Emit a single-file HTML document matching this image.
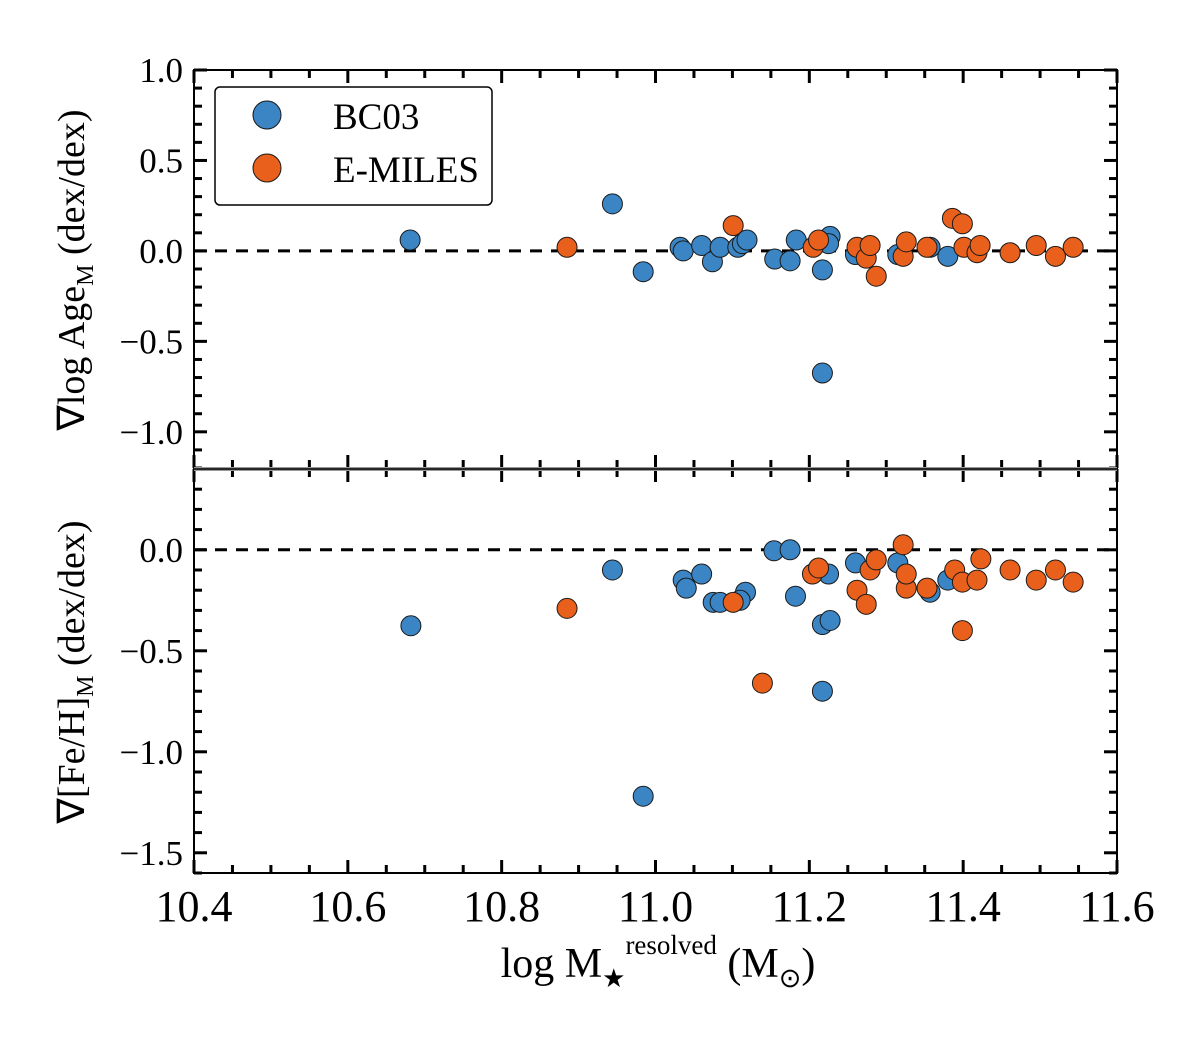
<!DOCTYPE html>
<html><head><meta charset="utf-8"><style>
body{margin:0;background:#fff}
svg{display:block;font-family:"Liberation Serif",serif}
</style></head><body>
<svg id="c" width="1200" height="1046"></svg>
<script>
const xTicks=[10.4,10.6,10.8,11.0,11.2,11.4,11.6];
const xTickLabels=["10.4","10.6","10.8","11.0","11.2","11.4","11.6"];
const topTicks=[1.0,0.5,0.0,-0.5,-1.0];
const topTickLabels=["1.0","0.5","0.0","\u22120.5","\u22121.0"];
const botTicks=[0.0,-0.5,-1.0,-1.5];
const botTickLabels=["0.0","\u22120.5","\u22121.0","\u22121.5"];
const ageBcX=[10.681,10.944,10.984,11.032,11.036,11.06,11.074,11.084,11.107,11.113,11.119,11.155,11.175,11.183,11.217,11.217,11.227,11.225,11.26,11.315,11.357,11.38];
const ageBcY=[0.06,0.26,-0.115,0.02,0.0,0.03,-0.06,0.02,0.02,0.04,0.06,-0.045,-0.055,0.06,-0.105,-0.675,0.08,0.04,-0.02,-0.02,0.02,-0.03];
const ageEmX=[10.885,11.101,11.205,11.212,11.262,11.274,11.279,11.287,11.322,11.326,11.353,11.386,11.399,11.401,11.418,11.422,11.461,11.495,11.52,11.543];
const ageEmY=[0.02,0.14,0.02,0.06,0.02,-0.04,0.03,-0.14,-0.03,0.05,0.02,0.18,0.15,0.02,-0.01,0.03,-0.01,0.03,-0.03,0.02];
const feBcX=[10.682,10.944,10.984,11.036,11.04,11.06,11.075,11.084,11.117,11.11,11.154,11.175,11.182,11.217,11.227,11.225,11.217,11.26,11.315,11.357,11.38];
const feBcY=[-0.376,-0.10,-1.22,-0.15,-0.19,-0.12,-0.26,-0.26,-0.21,-0.25,-0.005,0.0,-0.23,-0.37,-0.35,-0.12,-0.70,-0.065,-0.065,-0.21,-0.15];
const feEmX=[10.885,11.101,11.139,11.204,11.212,11.262,11.274,11.279,11.287,11.322,11.326,11.326,11.353,11.389,11.399,11.399,11.418,11.423,11.461,11.495,11.52,11.543];
const feEmY=[-0.29,-0.26,-0.66,-0.12,-0.09,-0.20,-0.27,-0.10,-0.05,0.025,-0.19,-0.12,-0.19,-0.10,-0.16,-0.40,-0.15,-0.045,-0.10,-0.15,-0.10,-0.16];

const NS="http://www.w3.org/2000/svg";
const svg=document.getElementById('c');
const L=194,R=1117;
const X=v=>L+(v-10.4)/1.2*(R-L);
const T0=70,T1=468,B0=469,B1=873;
const Yt=v=>T0+(1.0-v)/2.2*(T1-T0);
const Yb=v=>B0+(0.4-v)/2.0*(B1-B0);
function mk(tag,attrs,parent){const e=document.createElementNS(NS,tag);for(const k in attrs)e.setAttribute(k,attrs[k]);(parent||svg).appendChild(e);return e;}
function txt(s,x,y,size,anchor,name,parent){const t=mk('text',{x:x,y:y,'font-size':size,'text-anchor':anchor,fill:'#000'},parent);t.textContent=s;return t;}

function panel(y0,y1,Y,ymin,ymax,ticks,labels,name){
  const g=mk('g',{});
  
  
  const z=mk('line',{x1:L,x2:R,y1:Y(0),y2:Y(0),stroke:'#000','stroke-width':3,'stroke-dasharray':'12,9'},g);
  
  
  for(let i=0;i<=24;i++){const v=10.4+i*0.05;const maj=i%4==0;const len=maj?13:8;const x=X(v);
    mk('line',{x1:x,x2:x,y1:y0,y2:y0+len,stroke:'#000','stroke-width':3},g);
    mk('line',{x1:x,x2:x,y1:y1,y2:y1-len,stroke:'#000','stroke-width':3},g);}
  const n=Math.round((ymax-ymin)/0.1);
  for(let i=0;i<=n;i++){const v=Math.round((ymin+i*0.1)*10)/10;const maj=Math.abs(v*2-Math.round(v*2))<1e-6;const len=maj?13:8;const y=Y(v);
    mk('line',{x1:L,x2:L+len,y1:y,y2:y,stroke:'#000','stroke-width':3},g);
    mk('line',{x1:R,x2:R-len,y1:y,y2:y,stroke:'#000','stroke-width':3},g);}
  ticks.forEach((v,i)=>txt(labels[i],183,Y(v)+12,35,'end','y-tick-label',g));
  const f=mk('rect',{x:L,y:y0,width:R-L,height:y1-y0,fill:'none',stroke:'#000','stroke-width':2},g);
  
  
  return g;
}
panel(T0,T1,Yt,-1.2,1.0,topTicks,topTickLabels,'age-panel');
panel(B0,B1,Yb,-1.6,0.4,botTicks,botTickLabels,'feh-panel');
mk('line',{x1:L,x2:R,y1:469,y2:469,stroke:'#999','stroke-width':4});
mk('line',{x1:L,x2:R,y1:469,y2:469,stroke:'#000','stroke-width':1.5});

function pts(xs,ys,Y,col,name){xs.forEach((v,i)=>{const c=mk('circle',{cx:X(v),cy:Y(ys[i]),r:10,fill:col,stroke:'#1a1a1a','stroke-width':1});
  
  });}
const BLUE='#3b85c4',ORG='#e8601c';
pts(ageBcX,ageBcY,Yt,BLUE,'age-bc03-point');
pts(ageEmX,ageEmY,Yt,ORG,'age-emiles-point');
pts(feBcX,feBcY,Yb,BLUE,'feh-bc03-point');
pts(feEmX,feEmY,Yb,ORG,'feh-emiles-point');

xTicks.forEach((v,i)=>txt(xTickLabels[i],X(v),921,44,'middle','x-tick-label'));

const lg=mk('g',{});


mk('rect',{x:215,y:87,width:277,height:118,rx:5,fill:'#fff',stroke:'#000','stroke-width':1.5},lg);
mk('circle',{cx:267,cy:115,r:14,fill:BLUE,stroke:'#1a1a1a','stroke-width':1},lg);
mk('circle',{cx:267,cy:168,r:14,fill:ORG,stroke:'#1a1a1a','stroke-width':1},lg);
txt('BC03',333,129,37,'start','legend-label-bc03',lg);
txt('E-MILES',333,182,37,'start','legend-label-emiles',lg);

const yt1=mk('text',{transform:'translate(84,270) rotate(-90)','font-size':38,'text-anchor':'middle'});


yt1.innerHTML='\u2207log Age<tspan font-size="24" dy="9">M</tspan><tspan dy="-9"> (dex/dex)</tspan>';
const yt2=mk('text',{transform:'translate(84,672) rotate(-90)','font-size':38,'text-anchor':'middle'});


yt2.innerHTML='\u2207[Fe/H]<tspan font-size="24" dy="9">M</tspan><tspan dy="-9"> (dex/dex)</tspan>';
const xt=mk('text',{x:658,y:977,'font-size':42,'text-anchor':'middle'});


xt.innerHTML='log M<tspan font-size="26" dy="10">\u2605</tspan><tspan font-size="27" dy="-33">resolved</tspan><tspan dy="23"> (M</tspan><tspan font-size="27" dy="10">\u2299</tspan><tspan dy="-10">)</tspan>';
</script>
</body></html>
